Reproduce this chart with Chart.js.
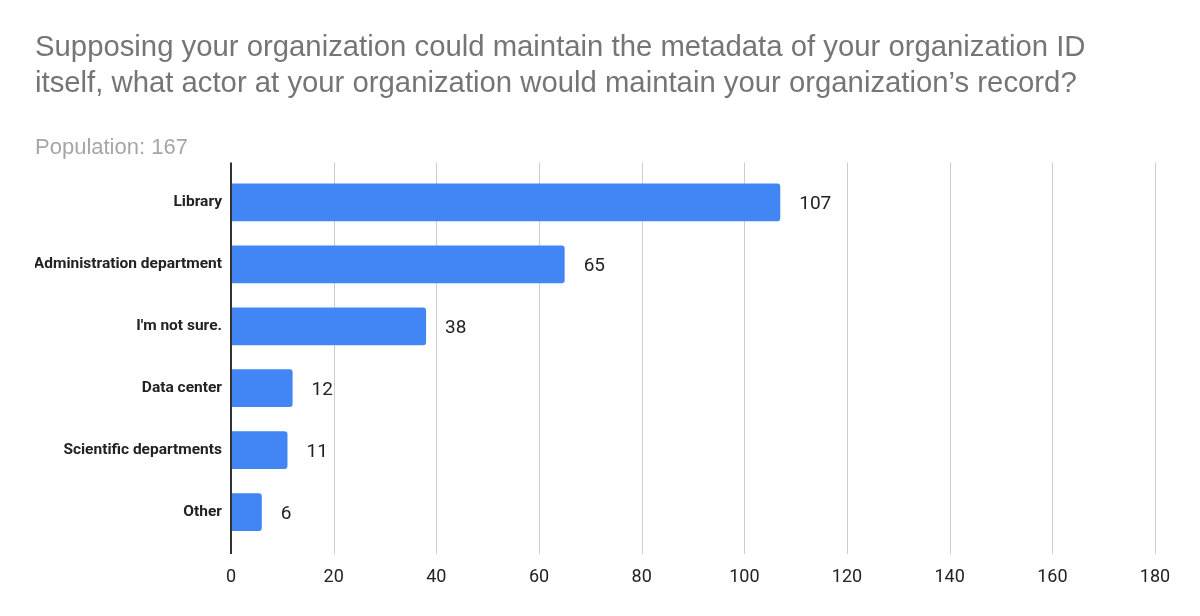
<!DOCTYPE html>
<html>
<head>
<meta charset="utf-8">
<script src="https://cdn.jsdelivr.net/npm/chart.js@4"></script>
<style>
  html, body { margin: 0; padding: 0; background: #fff; }
</style>
</head>
<body>
<canvas id="myChart" width="1200" height="616"></canvas>
<script>
// data
const categories = ['Library', 'Administration department', "I'm not sure.", 'Data center', 'Scientific departments', 'Other'];
const responses = [107, 65, 38, 12, 11, 6];
const xTickValues = [0, 20, 40, 60, 80, 100, 120, 140, 160, 180];
const titleLines = [
    'Supposing your organization could maintain the metadata of your organization ID',
    'itself, what actor at your organization would maintain your organization\u2019s record?'
];
const subtitleText = 'Population: 167';

// gridlines that run a bit past the plot area, like the original
const gridPlugin = {
    id: 'gridLines',
    beforeDatasetsDraw(chart) {
        const {ctx, chartArea, scales: {x}} = chart;
        ctx.save();
        ctx.strokeStyle = '#cccccc';
        ctx.lineWidth = 1;
        x.ticks.forEach(t => {
            if (t.value === 0) return;
            const px = Math.round(x.getPixelForValue(t.value)) + 0.5;
            ctx.beginPath();
            ctx.moveTo(px, chartArea.top - 9);
            ctx.lineTo(px, chartArea.bottom + 11);
            ctx.stroke();
        });
        ctx.restore();
    },
    afterDatasetsDraw(chart) {
        const {ctx, chartArea, scales: {x}} = chart;
        const px = Math.round(x.getPixelForValue(0));
        ctx.save();
        ctx.strokeStyle = '#333333';
        ctx.lineWidth = 2;
        ctx.beginPath();
        ctx.moveTo(px, chartArea.top - 9);
        ctx.lineTo(px, chartArea.bottom + 11);
        ctx.stroke();

        // value labels to the right of each bar
        const meta = chart.getDatasetMeta(0);
        ctx.fillStyle = '#222222';
        ctx.font = '19px Roboto';
        ctx.textBaseline = 'middle';
        ctx.textAlign = 'left';
        meta.data.forEach((bar, i) => {
            ctx.fillText(String(responses[i]), bar.x + 19, bar.y + 2);
        });
        ctx.restore();
    }
};

new Chart(document.getElementById('myChart'), {
    type: 'bar',
    data: {
        labels: categories,
        datasets: [{
            data: responses,
            backgroundColor: '#4285F4',
            borderRadius: 3,
            barPercentage: 0.61,
            categoryPercentage: 1
        }]
    },
    options: {
        indexAxis: 'y',
        responsive: false,
        animation: false,
        devicePixelRatio: 1,
        layout: {
            padding: {left: 35, right: 45, top: 12, bottom: 0}
        },
        plugins: {
            legend: {display: false},
            tooltip: {enabled: false},
            title: {
                display: true,
                text: titleLines,
                align: 'start',
                color: '#757575',
                font: {family: 'Liberation Sans', size: 29.3, weight: 'normal', lineHeight: 1.23},
                padding: {top: 18, bottom: 16}
            },
            subtitle: {
                display: true,
                text: subtitleText,
                align: 'start',
                color: '#a6a6a6',
                font: {family: 'Liberation Sans', size: 22, weight: 'normal', lineHeight: 1.2},
                padding: {top: 17, bottom: 10}
            }
        },
        scales: {
            x: {
                min: xTickValues[0],
                max: xTickValues[xTickValues.length - 1],
                afterFit(scale) { scale.height = 73; },
                ticks: {
                    stepSize: xTickValues[1] - xTickValues[0],
                    color: '#222222',
                    font: {family: 'Roboto', size: 18},
                    padding: 24,
                    maxRotation: 0
                },
                grid: {display: false, drawTicks: false},
                border: {display: false}
            },
            y: {
                afterFit(scale) { scale.width = 196; },
                ticks: {
                    color: '#222222',
                    font: {family: 'Roboto', size: 15.5, weight: 'bold'},
                    padding: 9
                },
                grid: {display: false, drawTicks: false},
                border: {display: false}
            }
        }
    },
    plugins: [gridPlugin]
});
</script>
</body>
</html>
